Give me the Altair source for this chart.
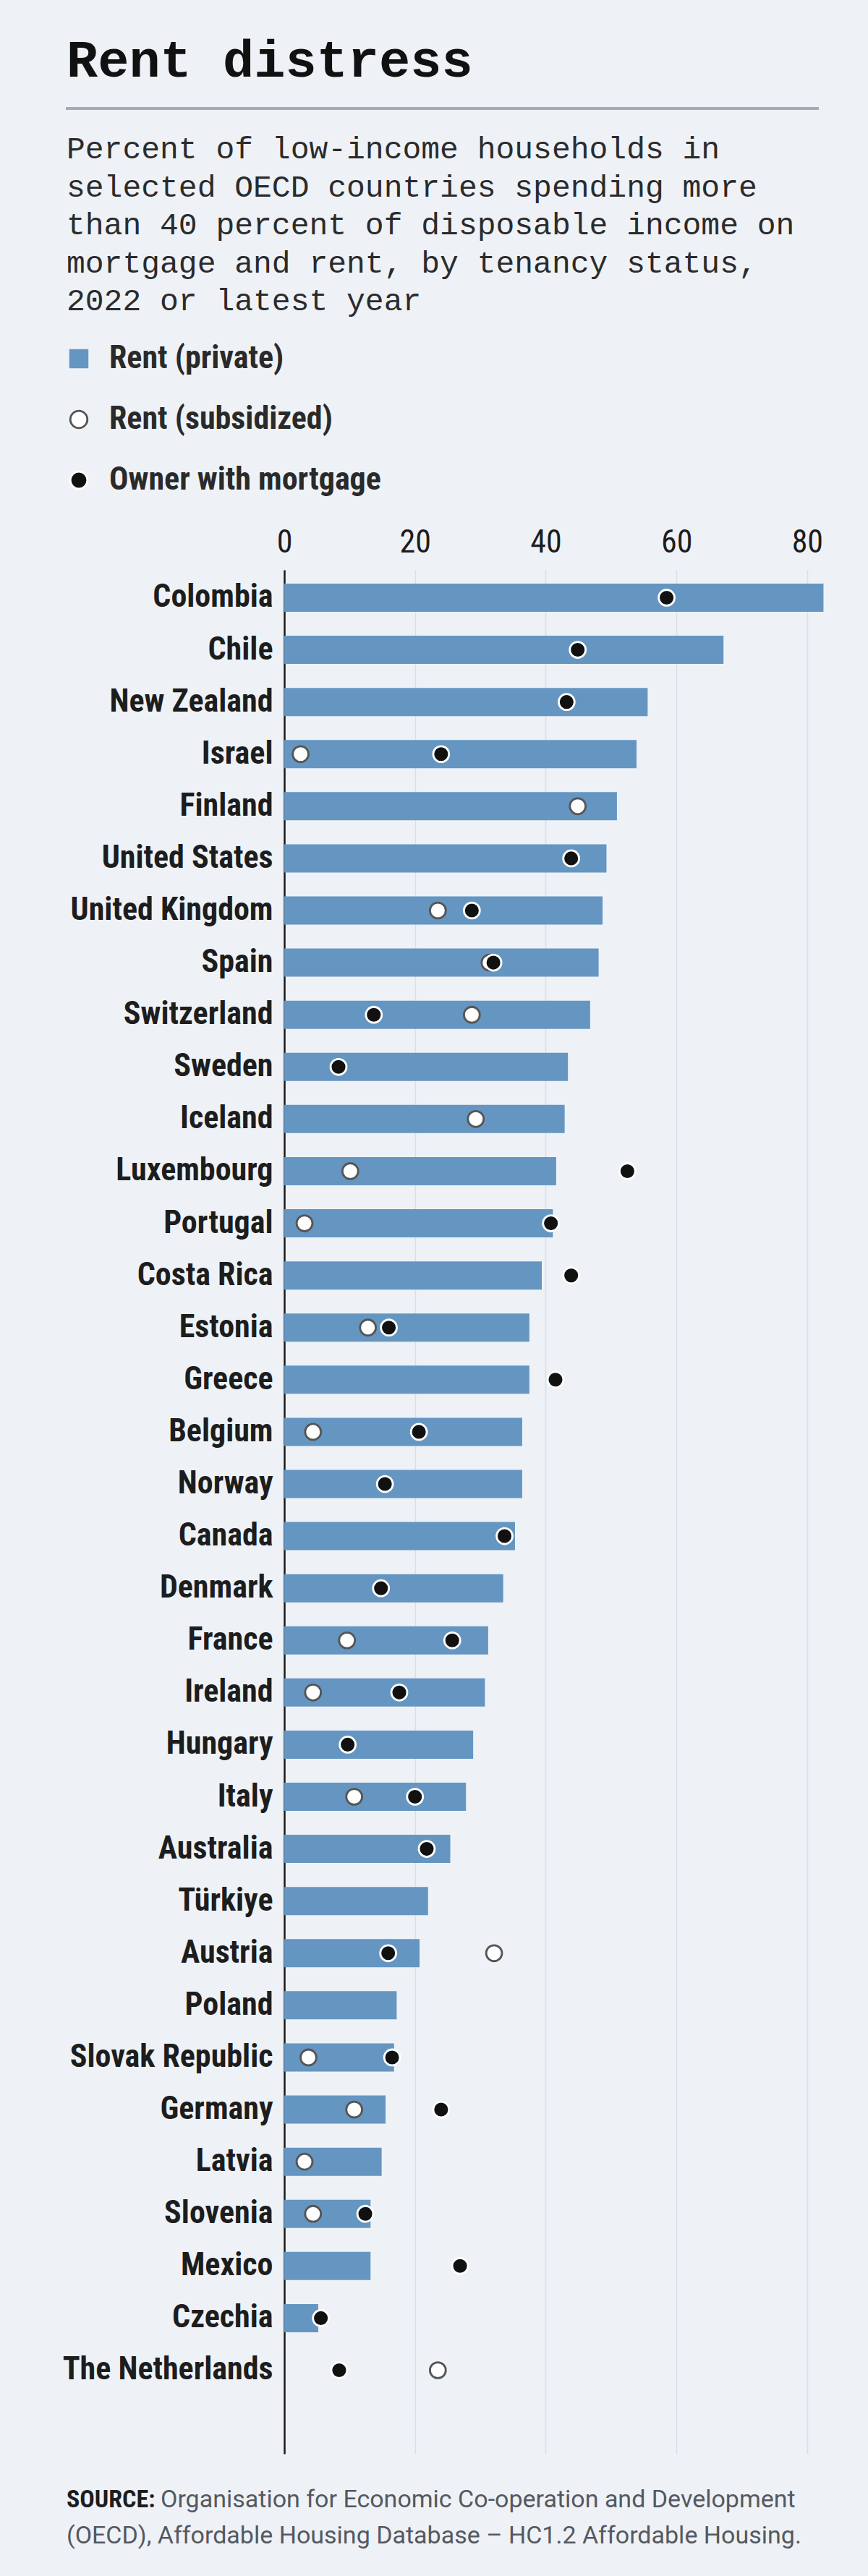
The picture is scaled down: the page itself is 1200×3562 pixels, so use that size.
import altair as alt
import pandas as pd

# Countries, top to bottom
countries = [
    "Colombia", "Chile", "New Zealand", "Israel", "Finland", "United States",
    "United Kingdom", "Spain", "Switzerland", "Sweden", "Iceland", "Luxembourg",
    "Portugal", "Costa Rica", "Estonia", "Greece", "Belgium", "Norway", "Canada",
    "Denmark", "France", "Ireland", "Hungary", "Italy", "Australia", "Türkiye",
    "Austria", "Poland", "Slovak Republic", "Germany", "Latvia", "Slovenia",
    "Mexico", "Czechia", "The Netherlands",
]
# Percent of low-income households spending > 40% of disposable income on housing
rent_private = [
    82.5, 67.2, 55.6, 53.9, 50.9, 49.3, 48.7, 48.1, 46.8, 43.4, 42.9, 41.6,
    41.1, 39.4, 37.5, 37.5, 36.4, 36.4, 35.3, 33.5, 31.2, 30.7, 28.9, 27.8,
    25.4, 22.0, 20.7, 17.2, 16.8, 15.5, 14.9, 13.2, 13.2, 5.2, None,
]
rent_subsidized = [
    None, None, None, 2.5, 44.9, None, 23.5, 31.4, 28.7, None, 29.3, 10.1,
    3.1, None, 12.8, None, 4.4, None, None, None, 9.6, 4.4, None, 10.7,
    None, None, 32.1, None, 3.7, 10.7, 3.1, 4.4, None, None, 23.5,
]
owner_mortgage = [
    58.5, 44.9, 43.2, 24.0, None, 43.9, 28.7, 32.0, 13.7, 8.3, None, 52.5,
    40.8, 43.9, 16.0, 41.5, 20.6, 15.4, 33.7, 14.8, 25.7, 17.6, 9.7, 20.0,
    21.8, None, 15.9, None, 16.5, 24.0, None, 12.4, 26.9, 5.6, 8.4,
]
series_names = ["Rent (private)", "Rent (subsidized)", "Owner with mortgage"]
x_ticks = [0, 20, 40, 60, 80]

title_text = "Rent distress"
subtitle_lines = [
    "Percent of low-income households in",
    "selected OECD countries spending more",
    "than 40 percent of disposable income on",
    "mortgage and rent, by tenancy status,",
    "2022 or latest year",
]
source_label = "SOURCE:"
source_lines = [
    "Organisation for Economic Co-operation and Development",
    "(OECD), Affordable Housing Database \u2013 HC1.2 Affordable Housing.",
]

# Long table: bars first, then subsidized rings, then owner dots (drawn on top)
rows = []
for values, name in zip([rent_private, rent_subsidized, owner_mortgage], series_names):
    for c, v in zip(countries, values):
        if v is not None:
            rows.append({"country": c, "series": name, "value": v})
df = pd.DataFrame(rows)

BG = "#eef2f7"
BAR = "#6596c2"
NARROW = "Liberation Sans Narrow, Roboto Condensed, DejaVu Sans Condensed, Roboto, sans-serif"
MONO = "Liberation Mono, DejaVu Sans Mono, monospace"

x_enc = alt.X(
    "value:Q",
    scale=alt.Scale(domain=[0, 84], nice=False, zero=True),
    axis=alt.Axis(
        orient="top", values=x_ticks, title=None, grid=True, gridColor="#d8dfea",
        gridWidth=1.5, domain=False, ticks=False, labelFont=NARROW,
        labelFontSize=44, labelColor="#1d1d1d", labelPadding=25,
        labelBaseline="alphabetic", labelFlush=False,
    ),
)
y_enc = alt.Y(
    "country:N",
    sort=countries,
    scale=alt.Scale(domain=countries, paddingInner=0.459, paddingOuter=0.7975, align=0.165),
    axis=alt.Axis(
        title=None, ticks=False, domain=True, domainColor="#1a1a1a", domainWidth=2.5,
        labelFont=NARROW, labelFontSize=44, labelFontWeight="bold",
        labelColor="#1d1d1d", labelPadding=16, grid=False, labelLimit=0,
    ),
)
fill_enc = alt.Fill(
    "series:N",
    scale=alt.Scale(domain=series_names, range=[BAR, "#ffffff", "#111111"]),
    legend=alt.Legend(title=None),
)
shape_enc = alt.Shape(
    "series:N",
    scale=alt.Scale(domain=series_names, range=["square", "circle", "circle"]),
    legend=alt.Legend(title=None),
)
stroke_enc = alt.Stroke(
    "series:N",
    scale=alt.Scale(domain=series_names, range=[BAR, "#555555", "#ffffff"]),
    legend=alt.Legend(title=None),
)

base = alt.Chart(df)
bars = base.transform_filter(alt.datum.series == series_names[0]).mark_bar().encode(
    x=x_enc, y=y_enc, fill=fill_enc
)
dots = base.transform_filter(alt.datum.series != series_names[0]).mark_point(
    filled=True, size=480, strokeWidth=2.8, opacity=1
).encode(x="value:Q", y=alt.Y("country:N", sort=countries), fill=fill_enc,
         shape=shape_enc, stroke=stroke_enc)

title = alt.Chart(pd.DataFrame({"t": [title_text]})).mark_text(
    font=MONO, fontSize=72, fontWeight="bold", color="#111111", align="left",
    baseline="alphabetic",
).encode(text="t:N", x=alt.value(-301), y=alt.value(-682))

rule = alt.Chart(pd.DataFrame({"r": [0]})).mark_rule(
    color="#a6aab4", strokeWidth=4
).encode(x=alt.value(-302), x2=alt.value(739), y=alt.value(-638))

subtitle = alt.Chart(pd.DataFrame({"t": ["\n".join(subtitle_lines)]})).mark_text(
    font=MONO, fontSize=43, color="#2b2b2b", align="left", baseline="alphabetic",
    lineBreak="\n", lineHeight=52.5,
).encode(text="t:N", x=alt.value(-301), y=alt.value(-569))

src_bold = alt.Chart(pd.DataFrame({"t": [source_label]})).mark_text(
    font=NARROW, fontSize=34, fontWeight="bold", color="#1d1d1d", align="left",
    baseline="alphabetic",
).encode(text="t:N", x=alt.value(-301), y=alt.value(2679))
src_line1 = alt.Chart(pd.DataFrame({"t": [source_lines[0]]})).mark_text(
    font="Roboto, sans-serif", fontSize=34, color="#55595f", align="left",
    baseline="alphabetic",
).encode(text="t:N", x=alt.value(-171), y=alt.value(2679))
src_line2 = alt.Chart(pd.DataFrame({"t": [source_lines[1]]})).mark_text(
    font="Roboto, sans-serif", fontSize=34, color="#55595f", align="left",
    baseline="alphabetic",
).encode(text="t:N", x=alt.value(-301), y=alt.value(2729))

chart = alt.layer(
    bars, dots, title, rule, subtitle, src_bold, src_line1, src_line2
).properties(
    width=759,
    height=2605,
    background=BG,
    autosize=alt.AutoSizeParams(type="none"),
    padding={"left": 393, "top": 788, "right": 48, "bottom": 169},
).configure_view(
    strokeWidth=0
).configure_legend(
    orient="none", legendX=-306, legendY=-314, direction="vertical",
    symbolSize=560, symbolStrokeWidth=2.8, labelFont=NARROW, labelFontSize=44,
    labelColor="#2a2a2a", labelOffset=20, rowPadding=40, padding=0,
    labelFontWeight="bold", labelLimit=0,
)

chart.save("out.html", embed_options={"renderer": "svg", "actions": False})
